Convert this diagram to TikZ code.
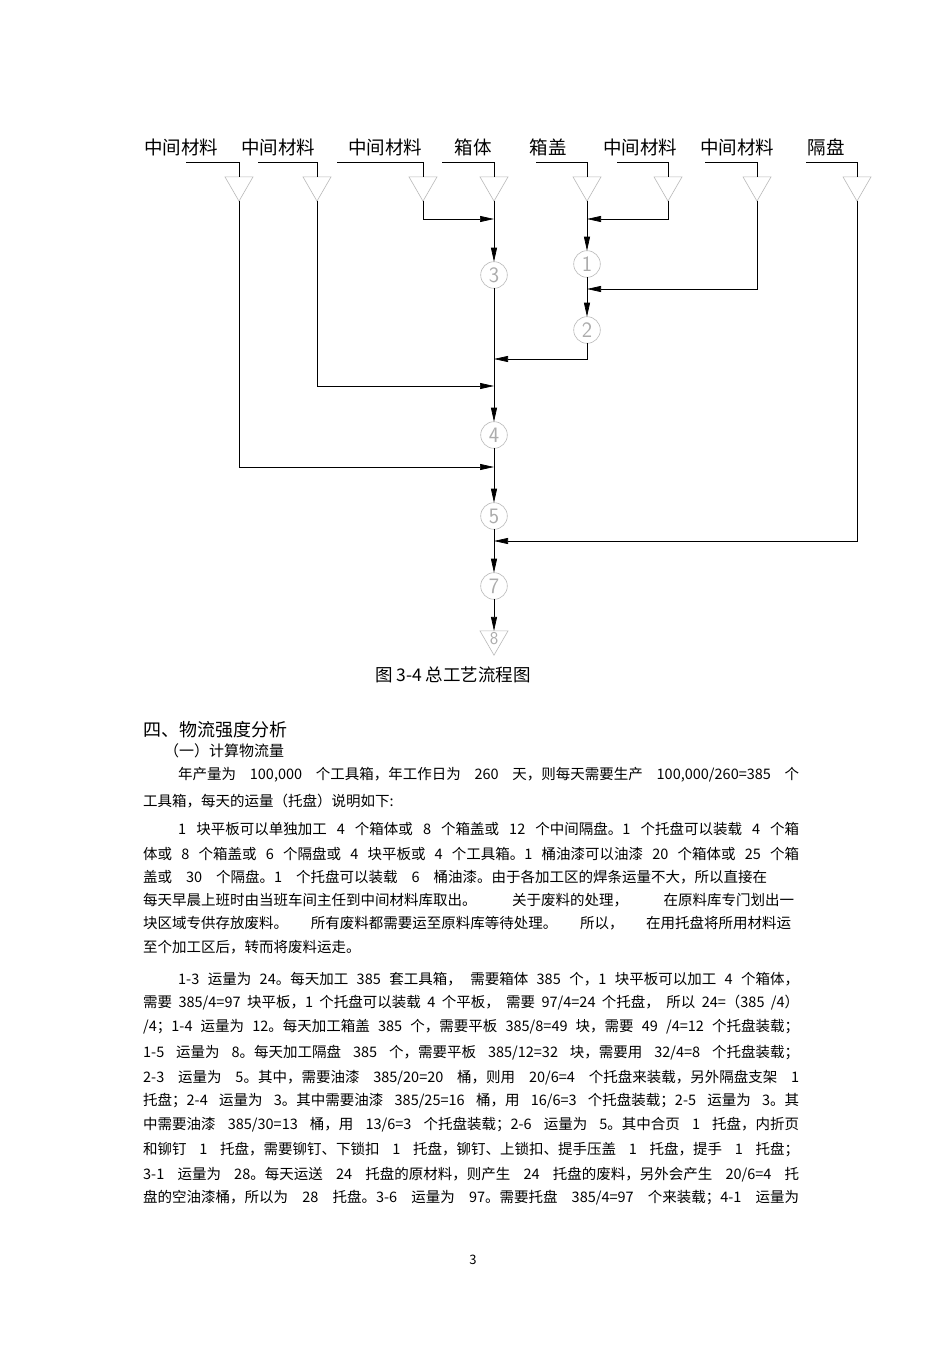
\documentclass[tikz,border=0pt]{standalone}
\usepackage{fontspec}
\setmainfont{Noto Sans CJK SC}
\usetikzlibrary{arrows.meta,shapes.geometric}
\tikzset{>={Triangle[length=14pt,width=6pt]},
    lab/.style={inner sep=0pt,font=\fontsize{18.5}{20}\selectfont},
    tri/.style={regular polygon,regular polygon sides=3,shape border rotate=180,draw=gray!55,line width=0.6pt,minimum size=32.3pt,inner sep=0pt,outer sep=0pt},
    stn/.style={circle,draw=gray!55,line width=0.6pt,text=gray!65,minimum size=26.6pt,inner sep=0pt,outer sep=0pt,font=\sffamily\fontsize{22}{22}\selectfont},
    flow/.style={line width=0.7pt},
    body/.style={anchor=west,inner sep=0pt,font=\fontsize{14.5}{17}\selectfont}}
\newcommand\jline[2]{\hbox to #1pt{#2}}

\begin{document}
\begin{tikzpicture}[x=1pt,y=-1pt]
    \path[fill=white] (0,0) rectangle (950,1345);
    \useasboundingbox (0,0) rectangle (950,1345);
    \foreach \i/\lx/\sx/\tx/\txt in {1/181/186/239/中间材料,2/278/258/317/中间材料,3/385/337/423/中间材料,4/473/442/494/箱体,5/548/536/587/箱盖,6/640/617/668/中间材料,7/737/705/757/中间材料,8/826/806/857/隔盘}{
        \node[lab] (l\i) at (\lx,147) {\txt};
        \node[tri] (t\i) at (\tx,185) {};
        \coordinate (s\i) at (\sx,162);
        \draw[flow] (s\i) -| (t\i);
    }
    \node[stn] (c1) at (587,264) {1};
    \node[stn] (c2) at (587,330) {2};
    \node[stn] (c3) at (494,275) {3};
    \node[stn] (c4) at (494,435) {4};
    \node[stn] (c5) at (494,516) {5};
    \node[stn] (c7) at (494,586) {7};
    \node[tri] (t9) at (494,639) {};
    \node[inner sep=0pt,text=gray!65,font=\sffamily\fontsize{18}{18}\selectfont] (n8) at (t9.center) {8};
    \coordinate (j1) at (494,219);
    \coordinate (j2) at (587,219);
    \coordinate (j3) at (587,289);
    \coordinate (j4) at (494,359);
    \coordinate (j5) at (494,386);
    \coordinate (j6) at (494,467);
    \coordinate (j7) at (494,541);
    \draw[flow,->] (t3) |- (j1);
    \draw[flow,->] (t4) -- (c3);
    \draw[flow,->] (t6) |- (j2);
    \draw[flow,->] (t5) -- (c1);
    \draw[flow,->] (t7) |- (j3);
    \draw[flow,->] (c1) -- (c2);
    \draw[flow,->] (c2) |- (j4);
    \draw[flow,->] (t2) |- (j5);
    \draw[flow,->] (c3) -- (c4);
    \draw[flow,->] (t1) |- (j6);
    \draw[flow,->] (c4) -- (c5);
    \draw[flow,->] (t8) |- (j7);
    \draw[flow,->] (c5) -- (c7);
    \draw[flow,->] (c7) -- (t9);
    \node[inner sep=0pt,font=\fontsize{17.5}{19}\selectfont] (cap) at (453,675) {图 3-4 总工艺流程图};
    \node[anchor=west,inner sep=0pt,font=\fontsize{18}{20}\selectfont] (h1) at (143,730) {四、物流强度分析};
    \node[anchor=west,inner sep=0pt,font=\fontsize{15}{17}\selectfont] (h2) at (164,751) {（一）计算物流量};
    \node[body] (p1) at (178,775) {\jline{621}{年产量为 100,000 个工具箱，年工作日为 260 天，则每天需要生产 100,000/260=385 个}};
    \node[body] (p2) at (143,801) {工具箱，每天的运量（托盘）说明如下:};
    \node[body] (p3) at (178,829) {\jline{621}{1 块平板可以单独加工 4 个箱体或 8 个箱盖或 12 个中间隔盘。1 个托盘可以装载 4 个箱}};
    \node[body] (p4) at (143,854) {\jline{656}{体或 8 个箱盖或 6 个隔盘或 4 块平板或 4 个工具箱。1 桶油漆可以油漆 20 个箱体或 25 个箱}};
    \node[body] (p5) at (143,877) {\jline{624}{盖或 30 个隔盘。1 个托盘可以装载 6 桶油漆。由于各加工区的焊条运量不大，所以直接在}};
    \node[body] (p6) at (143,900) {\jline{651}{每天早晨上班时由当班车间主任到中间材料库取出。 关于废料的处理， 在原料库专门划出一}};
    \node[body] (p7) at (143,923) {\jline{648}{块区域专供存放废料。 所有废料都需要运至原料库等待处理。 所以， 在用托盘将所用材料运}};
    \node[body] (p8) at (143,947) {至个加工区后，转而将废料运走。};
    \node[body] (p9) at (178,979) {\jline{621}{1-3 运量为 24。每天加工 385 套工具箱， 需要箱体 385 个，1 块平板可以加工 4 个箱体，}};
    \node[body] (p10) at (143,1003) {\jline{656}{需要 385/4=97 块平板，1 个托盘可以装载 4 个平板， 需要 97/4=24 个托盘， 所以 24=（385 /4）}};
    \node[body] (p11) at (143,1027) {\jline{656}{/4；1-4 运量为 12。每天加工箱盖 385 个，需要平板 385/8=49 块，需要 49 /4=12 个托盘装载；}};
    \node[body] (p12) at (143,1053) {\jline{656}{1-5 运量为 8。每天加工隔盘 385 个，需要平板 385/12=32 块，需要用 32/4=8 个托盘装载；}};
    \node[body] (p13) at (143,1078) {\jline{656}{2-3 运量为 5。其中，需要油漆 385/20=20 桶，则用 20/6=4 个托盘来装载，另外隔盘支架 1}};
    \node[body] (p14) at (143,1101) {\jline{656}{托盘；2-4 运量为 3。其中需要油漆 385/25=16 桶，用 16/6=3 个托盘装载；2-5 运量为 3。其}};
    \node[body] (p15) at (143,1125) {\jline{656}{中需要油漆 385/30=13 桶，用 13/6=3 个托盘装载；2-6 运量为 5。其中合页 1 托盘，内折页}};
    \node[body] (p16) at (143,1149) {\jline{656}{和铆钉 1 托盘，需要铆钉、下锁扣 1 托盘，铆钉、上锁扣、提手压盖 1 托盘，提手 1 托盘；}};
    \node[body] (p17) at (143,1175) {\jline{656}{3-1 运量为 28。每天运送 24 托盘的原材料，则产生 24 托盘的废料，另外会产生 20/6=4 托}};
    \node[body] (p18) at (143,1198) {\jline{656}{盘的空油漆桶，所以为 28 托盘。3-6 运量为 97。需要托盘 385/4=97 个来装载；4-1 运量为}};
    \node[inner sep=0pt,font=\fontsize{13}{15}\selectfont] (pg) at (473,1260) {3};
\end{tikzpicture}
\end{document}
